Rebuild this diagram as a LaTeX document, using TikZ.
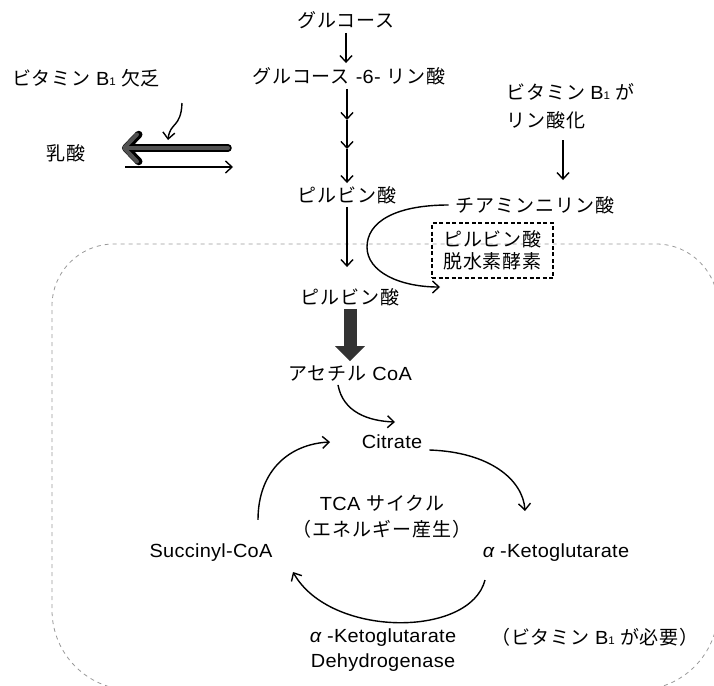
\documentclass[tikz,border=0pt]{standalone}
\usepackage{fontspec}
\setmainfont{Liberation Sans}[FakeStretch=1.05,LetterSpace=1.5]
\newfontfamily\jp{Noto Sans CJK JP}[LetterSpace=5]
\usetikzlibrary{arrows.meta}
\newcommand{\jtxt}[1]{{\jp #1}}
\newcommand{\Bone}{{\rmfamily B\fontsize{11}{11}\selectfont 1}}
\begin{document}
\begin{tikzpicture}[x=1pt,y=-1pt,
  lbl/.style={inner sep=1pt, font=\fontsize{19}{24}\selectfont, align=center},
  arr/.style={line width=1.4pt, -{Straight Barb[length=6.5pt,width=12pt]}},
  region/.style={draw=black!40, line width=0.8pt, dash pattern=on 4pt off 4pt},
  dbox/.style={draw=black, line width=1.1pt, dash pattern=on 4pt off 2.5pt},
  bigarr/.style={draw=black!80, line width=13pt, -{Triangle[length=15pt,width=29pt]}},
  leftarrout/.style={draw=black, line width=7.5pt, line cap=round, -{Straight Barb[length=13pt,width=27pt,line cap=round,line join=round]}},
  leftarrin/.style={draw=black!68, line width=4pt, line cap=round, -{Straight Barb[length=13pt,width=27pt,line cap=round,line join=round]}}]
\useasboundingbox (0,0) rectangle (714,685);
\begin{scope}
\clip (0,0) rectangle (714,685);
\draw[region] (52,450) [rounded corners=62] |- (400,244) [rounded corners=62] -| (718,450) [rounded corners=80] |- (400,690) -| (52,450);
\end{scope}
% nodes
\node[lbl] (glc) at (346,20) {\jtxt{グルコース}};
\node[lbl] (g6p) at (349,76) {\jtxt{グルコース} -6- \jtxt{リン酸}};
\node[lbl] (pyr1) at (347,195) {\jtxt{ピルビン酸}};
\node[lbl] (pyr2) at (350,297) {\jtxt{ピルビン酸}};
\node[lbl] (acoa) at (350,374) {\jtxt{アセチル} CoA};
\node[lbl] (cit) at (392,442) {Citrate};
\node[lbl] (tca) at (382,503) {TCA \jtxt{サイクル}};
\node[lbl] (ene) at (382,529) {\jtxt{（エネルギー産生）}};
\node[lbl] (akg) at (556,553) {{\itshape α} -Ketoglutarate};
\node[lbl] (suc) at (211,553) {Succinyl-CoA};
\node[lbl, font=\fontsize{19}{25}\selectfont] (akgdh) at (383,650) {{\itshape α} -Ketoglutarate\\Dehydrogenase};
\node[lbl] (need) at (595,637) {\jtxt{（ビタミン \Bone\ が必要）}};
\node[lbl] (def) at (86,78) {\jtxt{ビタミン \Bone\ 欠乏}};
\node[lbl] (lac) at (66,153) {\jtxt{乳酸}};
\node[lbl, align=left, anchor=west, font=\fontsize{19}{28}\selectfont] (vb) at (505,106) {\jtxt{ビタミン \Bone\ が}\\\jtxt{リン酸化}};
\node[lbl] (tpp) at (535,205) {\jtxt{チアミンニリン酸}};
\node[lbl, dbox, minimum width=121pt, minimum height=55pt, font=\fontsize{19}{22}\selectfont] (pdh) at (492.5,250.5) {\jtxt{ピルビン酸}\\\jtxt{脱水素酵素}};
% coordinates
\coordinate (c1) at (347,120);
\coordinate (c2) at (347,149);
\coordinate (b1s) at (182,103);
\coordinate (b1e) at (168,140);
\coordinate (tl) at (228,148);
\coordinate (tle) at (122,148);
\coordinate (tr1) at (125,167);
\coordinate (tr2) at (233,167);
\coordinate (va) at (563,140);
\coordinate (tppe) at (440,287);
\coordinate (acoae) at (395,422);
\coordinate (cite) at (525,511);
\coordinate (akge) at (293,572);
\coordinate (suce) at (330,442);
% connectors
\draw[arr, shorten <=3pt, shorten >=3pt] (glc.south) -- (glc.south |- g6p.north);
\draw[arr, shorten <=3pt] (c1 |- g6p.south) -- (c1);
\draw[arr] (c1) -- (c2);
\draw[arr, shorten >=2pt] (c2) -- (c2 |- pyr1.north);
\draw[arr, shorten <=2pt, shorten >=20pt] (pyr1.south) -- (pyr1.south |- pyr2.north);
\draw[bigarr, shorten <=2pt, shorten >=4pt] (pyr2.south) -- (acoa.north);
\draw[arr] (b1s) .. controls (181,128) and (170,122) .. (b1e);
\draw[leftarrout] (tl) -- (tle);
\draw[leftarrin] (tl) -- (tle);
\draw[arr] (tr1) -- (tr2);
\draw[arr, shorten >=15pt] (va) -- (va |- tpp.north);
\draw[arr] ([xshift=-6pt]tpp.west) .. controls (395,205) and (367,222) .. (367,247) .. controls (367,272) and (400,287) .. (tppe);
\draw[arr] ([xshift=-12pt,yshift=-2pt]acoa.south) .. controls (343,412) and (368,421) .. (acoae);
\draw[arr] ([xshift=6pt,yshift=-8pt]cit.east) .. controls (490,452) and (523,480) .. (cite);
\draw[arr] ([xshift=-71pt,yshift=-17pt]akg.south) .. controls (470,638) and (330,638) .. (akge);
\draw[arr] ([xshift=47pt,yshift=23pt]suc.north) .. controls (258,470) and (290,444) .. (suce);
\end{tikzpicture}
\end{document}
